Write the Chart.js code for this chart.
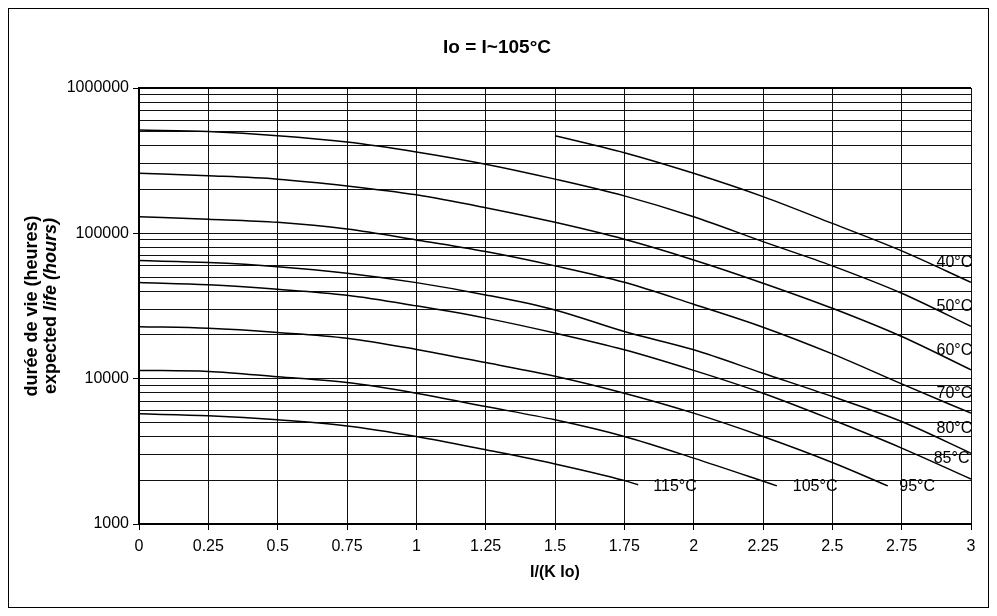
<!DOCTYPE html>
<html>
<head>
<meta charset="utf-8">
<title>Io = I~105°C</title>
<script src="https://cdn.jsdelivr.net/npm/chart.js@4.4.1/dist/chart.umd.min.js"></script>
<style>
    html, body { margin: 0; padding: 0; background: #fff; }
    canvas { display: block; }
</style>
</head>
<body>
<canvas id="graphiqueVie" width="997" height="616"></canvas>
<script>
// abscisses I/(K Io)
var courant = [0, 0.25, 0.5, 0.75, 1, 1.25, 1.5, 1.75, 2, 2.25, 2.5, 2.75, 3];
var courant40 = [1.5, 1.75, 2, 2.25, 2.5, 2.75, 3];
var courant95 = [0, 0.25, 0.5, 0.75, 1, 1.25, 1.5, 1.75, 2, 2.25, 2.5, 2.7];
var courant105 = [0, 0.25, 0.5, 0.75, 1, 1.25, 1.5, 1.75, 2, 2.3];
var courant115 = [0, 0.25, 0.5, 0.75, 1, 1.25, 1.5, 1.75, 1.8];

// durée de vie (heures) par température
var vie40 = [470000, 359000, 259000, 179000, 117000, 75700, 46000];
var vie50 = [514000, 501000, 470000, 425000, 363000, 299000, 236000, 181000, 130000, 87700, 59700, 38700, 22900];
var vie60 = [259000, 249000, 236000, 212000, 184000, 150000, 119000, 91000, 65600, 45400, 30500, 19500, 11500];
var vie70 = [130000, 125000, 119000, 107000, 90100, 74900, 59700, 46000, 32500, 22600, 14800, 9200, 5790];
var vie80 = [64900, 62900, 59000, 53200, 45800, 37700, 29700, 21100, 15800, 10900, 7530, 5070, 3070];
var vie85 = [45800, 44200, 41200, 37500, 31700, 26100, 20600, 15800, 11400, 7940, 5210, 3330, 2040];
var vie95 = [22800, 22200, 20800, 19000, 15900, 12900, 10400, 7940, 5790, 4000, 2650, 1830];
var vie105 = [11400, 11200, 10300, 9400, 7940, 6430, 5210, 4000, 2840, 1830];
var vie115 = [5730, 5550, 5210, 4730, 4000, 3240, 2590, 1990, 1860];

var temperatures = ['40°C', '50°C', '60°C', '70°C', '80°C', '85°C', '95°C', '105°C', '115°C'];

var etiquettesX = ['0', '0.25', '0.5', '0.75', '1', '1.25', '1.5', '1.75', '2', '2.25', '2.5', '2.75', '3'];
var decadesY = [1000, 10000, 100000, 1000000];

// où poser le nom de chaque courbe (coordonnées du graphique)
var etiquettesCourbes = [
    { x: 2.94, y: 62900 },
    { x: 2.94, y: 31300 },
    { x: 2.94, y: 15600 },
    { x: 2.94, y: 7940 },
    { x: 2.94, y: 4500 },
    { x: 2.93, y: 2810 },
    { x: 2.806, y: 1810 },
    { x: 2.438, y: 1810 },
    { x: 1.933, y: 1810 }
];

var POLICE = '"Liberation Sans", Arial, sans-serif';

function serie(xs, ys) {
    return xs.map(function (x, i) { return { x: x, y: ys[i] }; });
}

var courbes = [
    serie(courant40, vie40),
    serie(courant, vie50),
    serie(courant, vie60),
    serie(courant, vie70),
    serie(courant, vie80),
    serie(courant, vie85),
    serie(courant95, vie95),
    serie(courant105, vie105),
    serie(courant115, vie115)
];

var graduationsY = [];
decadesY.forEach(function (d, i) {
    if (i === decadesY.length - 1) {
        graduationsY.push(d);
        return;
    }
    for (var k = 1; k <= 9; k++) graduationsY.push(d * k);
});

var decor = {
    id: 'decor',
    beforeDraw: function (chart) {
        var ctx = chart.ctx;
        ctx.save();
        ctx.fillStyle = '#fff';
        ctx.fillRect(0, 0, chart.width, chart.height);
        ctx.strokeStyle = '#000';
        ctx.lineWidth = 1;
        ctx.strokeRect(8.5, 8.5, 980, 599);
        ctx.restore();
    },
    afterDraw: function (chart) {
        var ctx = chart.ctx;
        var a = chart.chartArea;
        ctx.save();
        ctx.strokeStyle = '#000';
        ctx.lineWidth = 2;
        ctx.beginPath();
        ctx.moveTo(a.left, a.top);
        ctx.lineTo(a.right, a.top);
        ctx.stroke();

        ctx.fillStyle = '#000';
        ctx.textAlign = 'center';
        ctx.textBaseline = 'middle';
        ctx.font = 'bold 19px ' + POLICE;
        ctx.fillText('Io = I~105°C', 497, 48);
        ctx.font = 'bold 16px ' + POLICE;
        ctx.fillText('I/(K Io)', (a.left + a.right) / 2, 573);

        // titre vertical sur deux lignes
        ctx.font = 'bold 18px ' + POLICE;
        var cy = (a.top + a.bottom) / 2;
        ctx.translate(32, cy);
        ctx.rotate(-Math.PI / 2);
        ctx.fillText('durée de vie (heures)', 0, 0);
        var p1 = 'expected ', p2 = 'life (hours)';
        var w1 = ctx.measureText(p1).width;
        ctx.font = 'italic bold 18px ' + POLICE;
        var w2 = ctx.measureText(p2).width;
        var debut = -(w1 + w2) / 2;
        ctx.textAlign = 'left';
        ctx.font = 'bold 18px ' + POLICE;
        ctx.fillText(p1, debut, 19);
        ctx.font = 'italic bold 18px ' + POLICE;
        ctx.fillText(p2, debut + w1, 19);
        ctx.restore();

        // noms des courbes
        ctx.save();
        ctx.fillStyle = '#000';
        ctx.font = '16px ' + POLICE;
        ctx.textAlign = 'center';
        ctx.textBaseline = 'middle';
        var sx = chart.scales.x, sy = chart.scales.y;
        etiquettesCourbes.forEach(function (p, i) {
            ctx.fillText(temperatures[i], sx.getPixelForValue(p.x), sy.getPixelForValue(p.y));
        });
        ctx.restore();
    }
};

var ctx = document.getElementById('graphiqueVie').getContext('2d');

var graphique = new Chart(ctx, {
    type: 'line',
    data: {
        datasets: courbes.map(function (points, i) {
            return {
                label: temperatures[i],
                data: points,
                borderColor: '#000',
                borderWidth: 1.5,
                pointRadius: 0,
                fill: false,
                cubicInterpolationMode: 'monotone'
            };
        })
    },
    options: {
        responsive: false,
        animation: false,
        layout: { padding: { left: 8, right: 26, top: 88, bottom: 8 } },
        plugins: {
            legend: { display: false },
            tooltip: { enabled: false }
        },
        scales: {
            x: {
                type: 'linear',
                min: 0,
                max: 3,
                afterFit: function (s) { s.height = 84; },
                grid: { color: '#111', lineWidth: 1, tickLength: 6, tickColor: '#000' },
                border: { color: '#000', width: 2 },
                ticks: {
                    stepSize: 0.25,
                    color: '#000',
                    padding: 7,
                    font: { family: POLICE, size: 16 },
                    maxRotation: 0,
                    autoSkip: false,
                    callback: function (value, index) { return etiquettesX[index]; }
                }
            },
            y: {
                type: 'logarithmic',
                min: 1000,
                max: 1000000,
                afterFit: function (s) { s.width = 131; },
                afterBuildTicks: function (s) {
                    s.ticks = graduationsY.map(function (v) { return { value: v }; });
                },
                grid: {
                    color: '#111',
                    lineWidth: 1,
                    tickLength: 6,
                    tickColor: function (c) {
                        return c.tick && decadesY.indexOf(c.tick.value) >= 0 ? '#000' : 'rgba(0,0,0,0)';
                    }
                },
                border: { color: '#000', width: 2 },
                ticks: {
                    color: '#000',
                    padding: 4,
                    autoSkip: false,
                    font: { family: POLICE, size: 16 },
                    callback: function (value) {
                        return decadesY.indexOf(value) >= 0 ? String(value) : '';
                    }
                }
            }
        }
    },
    plugins: [decor]
});
</script>
</body>
</html>
